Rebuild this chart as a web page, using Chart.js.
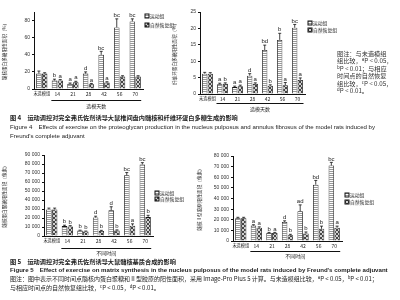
<!DOCTYPE html>
<html>
<head>
<meta charset="utf-8">
<script src="https://cdn.jsdelivr.net/npm/chart.js@4/dist/chart.umd.min.js"></script>
<style>
  body { margin: 0; background: #fff; }
  #page { position: relative; width: 400px; height: 300px; overflow: hidden; font-family: "Liberation Sans", "Noto Sans CJK SC", sans-serif; color: #222; }
  canvas { position: absolute; }
  .t { position: absolute; white-space: nowrap; line-height: 1; }
  .cn { font-family: "Noto Sans CJK SC", sans-serif; }
  sup { font-size: 70%; vertical-align: 2px; line-height: 0; }
</style>
</head>
<body>
<div id="page">
  <canvas id="c1" width="200" height="112" style="left:0;top:0"></canvas>
  <canvas id="c2" width="175" height="115" style="left:170px;top:0"></canvas>
  <canvas id="c3" width="195" height="112" style="left:0;top:148px"></canvas>
  <canvas id="c4" width="205" height="112" style="left:195px;top:148px"></canvas>

  <div class="t cn" style="left:337px;top:50px;font-size:6.2px;line-height:7.4px;color:#333">图注：与未造模组<br>组比较，<sup>a</sup>P &lt; 0.05，<br><sup>b</sup>P &lt; 0.01；与相应<br>时间点的自然恢复<br>组比较，<sup>c</sup>P &lt; 0.05，<br><sup>d</sup>P &lt; 0.01。</div>

  <div class="t cn" style="left:10px;top:115px;font-size:6.2px;font-weight:bold">图 4　运动调控对完全弗氏佐剂诱导大鼠椎间盘内髓核和纤维环蛋白多糖生成的影响</div>
  <div class="t" style="left:10px;top:124px;font-size:6.1px">Figure 4　Effects of exercise on the proteoglycan production in the nucleus pulposus and annulus fibrosus of the model rats induced by</div>
  <div class="t" style="left:10px;top:133px;font-size:6.1px">Freund's complete adjuvant</div>

  <div class="t cn" style="left:10px;top:259px;font-size:6.2px;font-weight:bold">图 5　运动调控对完全弗氏佐剂诱导大鼠髓核基质合成的影响</div>
  <div class="t" style="left:10px;top:267px;font-size:6.1px;font-weight:bold">Figure 5　Effect of exercise on matrix synthesis in the nucleus pulposus of the model rats induced by Freund's complete adjuvant</div>
  <div class="t cn" style="left:10px;top:276px;font-size:6px">图注：图中表示不同时间点髓核内蛋白聚糖和Ⅱ型胶原的阳性面积，采用 Image-Pro Plus 5 计算。与未造模组比较，<sup>a</sup>P &lt; 0.05，<sup>b</sup>P &lt; 0.01；</div>
  <div class="t cn" style="left:10px;top:285px;font-size:6px">与相应时间点的自然恢复组比较，<sup>c</sup>P &lt; 0.05，<sup>d</sup>P &lt; 0.01。</div>
</div>

<script>
const days = ['未造模组', '14', '21', '28', '42', '56', '70'];
const seriesNames = ['运动组', '自然恢复组'];

// figure 4, nucleus pulposus
const npExercise = [18, 10, 6, 18, 40, 72, 79];
const npRecovery = [18, 10, 8, 5.5, 7.5, 14.5, 14.5];
const npExerciseErr = [3, 1.5, 1, 2, 4, 10, 3];
const npRecoveryErr = [1, 1, 1, 1, 1, 1, 1];
const npExerciseTags = ['', 'b', 'a', 'd', 'bc', 'bc', 'bc'];
const npRecoveryTags = ['', 'a', 'a', 'a', 'a', '', ''];

// figure 4, annulus fibrosus
const afExercise = [6.2, 3.0, 2.1, 5.6, 13.4, 16.5, 20.2];
const afRecovery = [6.2, 3.1, 2.4, 3.1, 2.5, 2.7, 4.3];
const afExerciseErr = [0.4, 0.3, 0.3, 0.6, 1.5, 2, 1];
const afRecoveryErr = [0.3, 0.3, 0.3, 0.3, 0.3, 0.8, 0.6];
const afExerciseTags = ['', 'a', 'a', 'd', 'bd', 'b', 'bc'];
const afRecoveryTags = ['', 'b', 'a', 'a', 'b', 'a', 'a'];

// figure 5, proteoglycan
const pgExercise = [29500, 11000, 6000, 20500, 28500, 67500, 79500];
const pgRecovery = [29500, 10500, 5000, 5500, 6000, 11500, 21000];
const pgExerciseErr = [1500, 1000, 500, 1500, 4000, 3000, 2000];
const pgRecoveryErr = [1500, 1000, 500, 800, 800, 2000, 2000];
const pgExerciseTags = ['', 'b', 'b', 'd', 'd', 'bc', 'bc'];
const pgRecoveryTags = ['', 'b', 'b', 'b', 'b', 'a', 'b'];

// figure 5, collagen II
const colExercise = [21500, 14500, 7500, 18000, 28000, 53000, 71000];
const colRecovery = [21500, 12500, 7500, 5500, 7000, 11500, 12500];
const colExerciseErr = [800, 800, 600, 1000, 6000, 4000, 3000];
const colRecoveryErr = [800, 800, 600, 800, 1500, 2500, 1500];
const colExerciseTags = ['', 'a', 'b', 'd', 'ad', 'bd', 'bc'];
const colRecoveryTags = ['', 'a', 'a', 'b', 'b', 'b', 'a'];

function stripes() {
    const c = document.createElement('canvas');
    c.width = 4; c.height = 2;
    const g = c.getContext('2d');
    g.fillStyle = '#fff'; g.fillRect(0, 0, 4, 2);
    g.fillStyle = '#999'; g.fillRect(0, 1, 4, 1);
    return g.createPattern(c, 'repeat');
}
function hatch() {
    const c = document.createElement('canvas');
    c.width = 4; c.height = 4;
    const g = c.getContext('2d');
    g.fillStyle = '#d0d0d0'; g.fillRect(0, 0, 4, 4);
    g.fillStyle = '#444';
    for (let i = 0; i < 4; i++) { g.fillRect(i, i, 1, 1); g.fillRect(3 - i, i, 1, 1); }
    return g.createPattern(c, 'repeat');
}

const thin = v => v === 0 ? '0' : (v >= 1000 ? (v / 1000) + ' 000' : v);

// error bars, significance letters, day bracket and legend
const extras = {
    id: 'extras',
    afterDatasetsDraw(chart, args, o) {
        const ctx = chart.ctx;
        const y = chart.scales.y, x = chart.scales.x;
        ctx.save();
        ctx.strokeStyle = '#111';
        ctx.fillStyle = '#222';
        ctx.lineWidth = 0.8;
        ctx.font = '6px "Liberation Sans"';
        ctx.textAlign = 'center';
        ctx.textBaseline = 'bottom';
        chart.data.datasets.forEach((ds, di) => {
            chart.getDatasetMeta(di).data.forEach((bar, i) => {
                const top = y.getPixelForValue(ds.data[i] + ds.err[i]);
                ctx.beginPath();
                ctx.moveTo(bar.x, bar.y); ctx.lineTo(bar.x, top);
                ctx.moveTo(bar.x - 1.5, top); ctx.lineTo(bar.x + 1.5, top);
                ctx.stroke();
                if (ds.tags[i]) ctx.fillText(ds.tags[i], bar.x, top - 0.5);
            });
        });
        // bracket under the day labels
        const x1 = x.getPixelForValue(1) - 6, x2 = x.getPixelForValue(6) + 6;
        ctx.lineWidth = 1;
        ctx.beginPath(); ctx.moveTo(x1, o.lineY); ctx.lineTo(x2, o.lineY); ctx.stroke();
        ctx.font = '5px "Noto Sans CJK SC"';
        ctx.textBaseline = 'middle';
        ctx.fillText(o.title, (x1 + x2) / 2, o.titleY);
        // legend
        ctx.textAlign = 'left';
        ctx.font = '4.8px "Noto Sans CJK SC"';
        chart.data.datasets.forEach((ds, di) => {
            const ly = o.legendY + di * o.legendGap;
            ctx.fillStyle = ds.backgroundColor;
            ctx.fillRect(o.legendX, ly - 2, 4, 4);
            ctx.strokeRect(o.legendX, ly - 2, 4, 4);
            ctx.fillStyle = '#222';
            ctx.fillText(ds.label, o.legendX + 5, ly);
        });
        ctx.restore();
    }
};

function draw(id, ex, rec, exErr, recErr, exTags, recTags, g) {
    const ctx = document.getElementById(id).getContext('2d');
    return new Chart(ctx, {
        type: 'bar',
        data: {
            labels: days,
            datasets: [
                { label: seriesNames[0], data: ex, err: exErr, tags: exTags, backgroundColor: stripes(), borderColor: '#111', borderWidth: 0.8 },
                { label: seriesNames[1], data: rec, err: recErr, tags: recTags, backgroundColor: hatch(), borderColor: '#111', borderWidth: 0.8 }
            ]
        },
        plugins: [extras],
        options: {
            responsive: false,
            animation: false,
            categoryPercentage: 0.74,
            barPercentage: 0.95,
            layout: { padding: g.pad },
            plugins: {
                legend: { display: false },
                tooltip: { enabled: false },
                extras: g.extras
            },
            scales: {
                x: {
                    afterFit: s => { s.height = g.xh; },
                    grid: { display: true, drawOnChartArea: false, drawTicks: false },
                    border: { display: true, color: '#111', width: 1 },
                    ticks: {
                        color: '#222', padding: 2, maxRotation: 0, autoSkip: false,
                        font: c => ({ size: c.index === 0 ? 4.2 : 5, family: '"Noto Sans CJK SC"' })
                    }
                },
                y: {
                    min: 0, max: g.max,
                    afterFit: s => { s.width = g.yw; },
                    grid: { display: true, drawOnChartArea: false, tickLength: 2, color: '#111' },
                    border: { display: true, color: '#111', width: 1 },
                    ticks: { stepSize: g.step, color: '#333', padding: 2, callback: thin, font: { size: 5, family: '"Liberation Sans"' } },
                    title: { display: true, text: g.ytitle, color: '#333', padding: 1, font: { size: 4.6, family: '"Noto Sans CJK SC"' } }
                }
            }
        }
    });
}

draw('c1', npExercise, npRecovery, npExerciseErr, npRecoveryErr, npExerciseTags, npRecoveryTags, {
    max: 90, step: 10, yw: 34, xh: 8,
    pad: { left: 0, top: 12, right: 57, bottom: 15 },
    ytitle: '髓核蛋白多糖阳性面积（%）',
    extras: { lineY: 100.5, titleY: 106, title: '造模天数', legendX: 145, legendY: 16, legendGap: 9 }
});
draw('c2', afExercise, afRecovery, afExerciseErr, afRecoveryErr, afExerciseTags, afRecoveryTags, {
    max: 25, step: 5, yw: 30, xh: 8,
    pad: { left: 0, top: 12, right: 40, bottom: 13 },
    ytitle: '纤维环蛋白多糖阳性面积（%）',
    extras: { lineY: 103.5, titleY: 109, title: '造模天数', legendX: 138, legendY: 23, legendGap: 7 }
});
draw('c3', pgExercise, pgRecovery, pgExerciseErr, pgRecoveryErr, pgExerciseTags, pgRecoveryTags, {
    max: 90000, step: 10000, yw: 44, xh: 8,
    pad: { left: 0, top: 7, right: 42, bottom: 16 },
    ytitle: '髓核蛋白聚糖阳性面积（像素）',
    extras: { lineY: 100.5, titleY: 105, title: '不同时间', legendX: 155, legendY: 45, legendGap: 6 }
});
draw('c4', colExercise, colRecovery, colExerciseErr, colRecoveryErr, colExerciseTags, colRecoveryTags, {
    max: 80000, step: 10000, yw: 38, xh: 8,
    pad: { left: 0, top: 8, right: 58, bottom: 11 },
    ytitle: '髓核Ⅱ型胶原阳性面积（像素）',
    extras: { lineY: 103.5, titleY: 108, title: '不同时间', legendX: 150, legendY: 47, legendGap: 7 }
});
</script>
</body>
</html>
